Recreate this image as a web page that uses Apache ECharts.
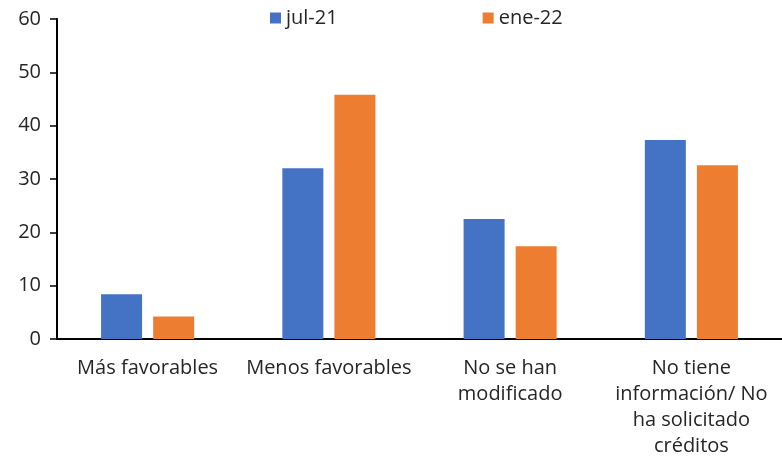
<!DOCTYPE html>
<html>
<head>
<meta charset="utf-8">
<script src="https://cdn.jsdelivr.net/npm/echarts@6/dist/echarts.min.js"></script>
<style>
  html, body { margin: 0; padding: 0; background: #fff; }
  #main { width: 782px; height: 459px; }
</style>
</head>
<body>
<div id="main"></div>
<script>
// categorias del eje x
var categorias = ['Más favorables', 'Menos favorables', 'No se han\nmodificado', 'No tiene\ninformación/ No\nha solicitado\ncréditos'];
// series
var jul21 = [8.4, 32.0, 22.5, 37.3];
var ene22 = [4.2, 45.8, 17.4, 32.6];

var myChart = echarts.init(document.getElementById('main'));
var fuente = '"Open Sans", "Noto Sans", sans-serif';

myChart.setOption({
  animation: false,
  textStyle: { fontFamily: fuente },
  legend: {
    top: 3,
    left: 265,
    itemWidth: 11,
    itemHeight: 11,
    itemGap: 145,
    icon: 'rect',
    textStyle: { fontSize: 20, color: '#262626', fontFamily: fuente },
    data: ['jul-21', 'ene-22']
  },
  grid: { left: 57, right: 0, top: 19, bottom: 117, containLabel: false },
  xAxis: {
    type: 'category',
    data: categorias,
    axisLine: { lineStyle: { color: '#000', width: 2 } },
    axisTick: { show: false },
    axisLabel: {
      interval: 0,
      color: '#262626',
      fontSize: 20,
      lineHeight: 26,
      margin: 16,
      fontFamily: fuente
    }
  },
  yAxis: {
    type: 'value',
    min: 0,
    max: 60,
    interval: 10,
    splitLine: { show: false },
    axisLine: { show: true, lineStyle: { color: '#000', width: 2 } },
    axisTick: { show: true, length: 7, lineStyle: { color: '#000', width: 1.5 } },
    axisLabel: { color: '#262626', fontSize: 20, margin: 16, fontFamily: fuente }
  },
  series: [
    {
      name: 'jul-21',
      type: 'bar',
      data: jul21,
      barWidth: 41,
      barGap: '27%',
      itemStyle: { color: '#4472C4' }
    },
    {
      name: 'ene-22',
      type: 'bar',
      data: ene22,
      barWidth: 41,
      itemStyle: { color: '#ED7D31' }
    }
  ]
});
</script>
</body>
</html>
